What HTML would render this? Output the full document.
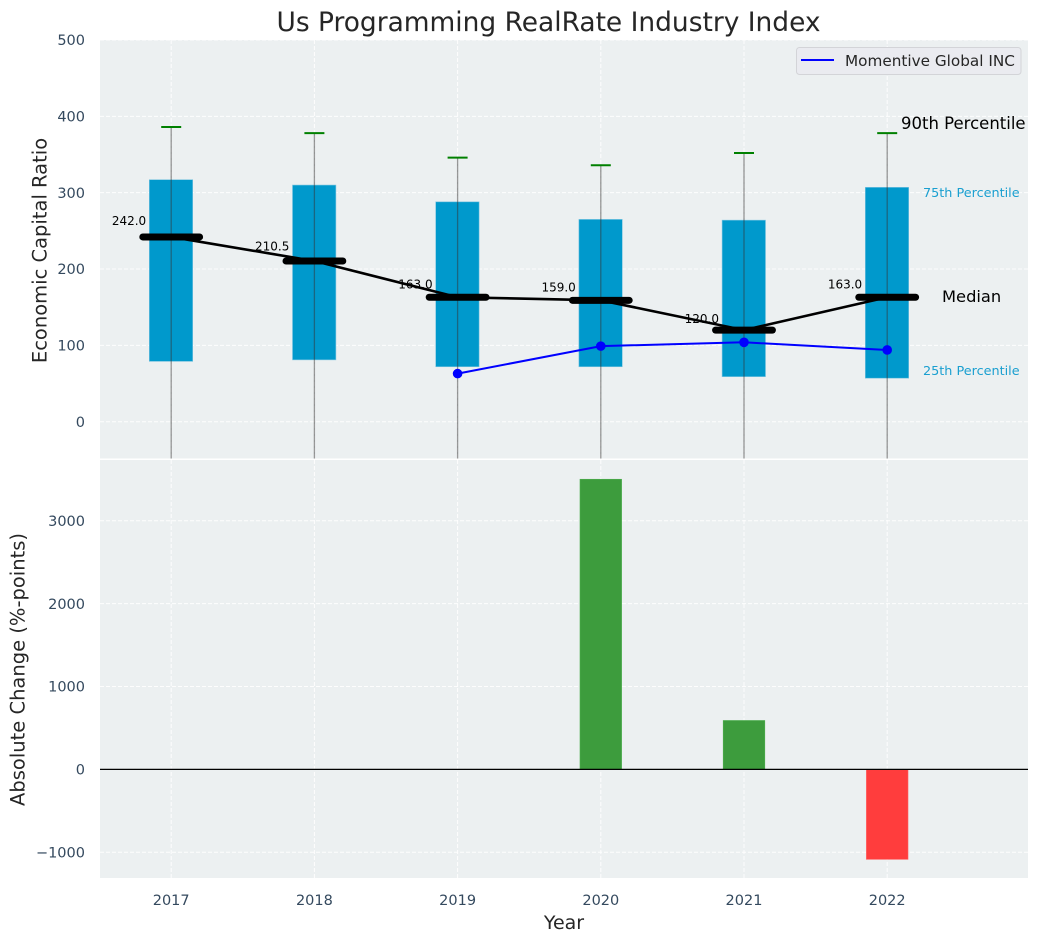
<!DOCTYPE html>
<html>
<head>
<meta charset="utf-8">
<style>
html,body{margin:0;padding:0;background:#fff;}
svg{display:block;font-family:"DejaVu Sans","Liberation Sans",sans-serif;}
</style>
</head>
<body>
<svg id="chart" width="1039" height="942" viewBox="0 0 1039 942" xmlns="http://www.w3.org/2000/svg"></svg>
<script>
const years = [2017, 2018, 2019, 2020, 2021, 2022];
const p10 = [-70, -70, -70, -70, -70, -70];
const p25 = [79, 81, 72, 72, 59, 57];
const p75 = [317, 310, 288, 265, 264, 307];
const p90 = [386, 378, 346, 336, 352, 378];
const medians = [242, 210.5, 163, 159, 120, 163];
const medianLabels = ["242.0", "210.5", "163.0", "159.0", "120.0", "163.0"];
const companyYears = [2019, 2020, 2021, 2022];
const companyValues = [63, 99, 104, 94];
const changeYears = [2020, 2021, 2022];
const changeValues = [3500, 590, -1085];
const topTicks = [0, 100, 200, 300, 400, 500];
const bottomTicks = [-1000, 0, 1000, 2000, 3000];
const bottomTickLabels = ["\u22121000", "0", "1000", "2000", "3000"];

const NS = "http://www.w3.org/2000/svg";
const svg = document.getElementById("chart");
const L = 100, R = 1028, T1 = 40, B1 = 458.5, T2 = 460, B2 = 878;

function x(v){ return 171.2 + (v - 2017) * 143.2; }
function yTop(v){ return 421.7 - v * 0.7634; }
function yBot(v){ return 769.4 - v * 0.0829; }

function make(tag, attrs, parent){
  const el = document.createElementNS(NS, tag);
  for (const k in attrs) el.setAttribute(k, attrs[k]);
  (parent || svg).appendChild(el);
  return el;
}
function label(str, attrs, parent){
  const el = make("text", attrs, parent);
  el.textContent = str;
  return el;
}

const defs = make("defs", {});
const clipA = make("clipPath", {id: "clip-top"}, defs);
make("rect", {x: L, y: T1, width: R - L, height: B1 - T1}, clipA);
const clipB = make("clipPath", {id: "clip-bottom"}, defs);
make("rect", {x: L, y: T2, width: R - L, height: B2 - T2}, clipB);

const panelTop = make("rect", {x: L, y: T1, width: R - L, height: B1 - T1, fill: "#ecf0f1"});


const panelBottom = make("rect", {x: L, y: T2, width: R - L, height: B2 - T2, fill: "#ecf0f1"});



const GRID = {stroke: "#ffffff", "stroke-width": 1, "stroke-dasharray": "4 2", opacity: 0.9};

const gridTop = make("g", {"clip-path": "url(#clip-top)"});


const gridBot = make("g", {"clip-path": "url(#clip-bottom)"});


years.forEach(function(yr){
  make("line", Object.assign({x1: x(yr), x2: x(yr), y1: T1, y2: B1}, GRID), gridTop);
  make("line", Object.assign({x1: x(yr), x2: x(yr), y1: T2, y2: B2}, GRID), gridBot);
});
topTicks.forEach(function(t){
  make("line", Object.assign({x1: L, x2: R, y1: yTop(t), y2: yTop(t)}, GRID), gridTop);
});
bottomTicks.forEach(function(t){
  make("line", Object.assign({x1: L, x2: R, y1: yBot(t), y2: yBot(t)}, GRID), gridBot);
});

const marks = make("g", {"clip-path": "url(#clip-top)"});



years.forEach(function(yr, i){
  const box = make("rect", {x: x(yr) - 21.9, y: yTop(p75[i]), width: 43.4, height: yTop(p25[i]) - yTop(p75[i]), fill: "#0099cc", stroke: "#7cc4e0", "stroke-width": 0.6}, marks);
  
  
});

const medianPath = make("polyline", {points: years.map(function(yr, i){ return x(yr) + "," + yTop(medians[i]); }).join(" "), fill: "none", stroke: "#000", "stroke-width": 2.6}, marks);



years.forEach(function(yr, i){
  const whisker = make("line", {x1: x(yr), x2: x(yr), y1: yTop(p90[i]), y2: yTop(p10[i]), stroke: "#333", "stroke-opacity": 0.5, "stroke-width": 1.3}, marks);
  
  
  const cap = make("line", {x1: x(yr) - 10, x2: x(yr) + 10, y1: yTop(p90[i]), y2: yTop(p90[i]), stroke: "#008000", "stroke-width": 2}, marks);
  
  
  const med = make("line", {x1: x(yr) - 28.4, x2: x(yr) + 28.4, y1: yTop(medians[i]), y2: yTop(medians[i]), stroke: "#000", "stroke-width": 7, "stroke-linecap": "round"}, marks);
  
  
  const val = label(medianLabels[i], {x: x(yr) - 25, y: yTop(medians[i] * 1.05) - 2.7, "text-anchor": "end", "font-size": 12, fill: "#000"});
  
  
});

const companyPath = make("polyline", {points: companyYears.map(function(yr, i){ return x(yr) + "," + yTop(companyValues[i]); }).join(" "), fill: "none", stroke: "#0000ff", "stroke-width": 2}, marks);


companyYears.forEach(function(yr, i){
  const pt = make("circle", {cx: x(yr), cy: yTop(companyValues[i]), r: 4.8, fill: "#0000ff"}, marks);
  
  
});

const barGroup = make("g", {"clip-path": "url(#clip-bottom)"});


changeYears.forEach(function(yr, i){
  const v = changeValues[i];
  const top = Math.min(yBot(v), yBot(0));
  const h = Math.abs(yBot(v) - yBot(0));
  const bar = make("rect", {x: x(yr) - 20.8, y: top, width: 41.6, height: h, fill: v >= 0 ? "#3d9c3d" : "#ff3d3d", stroke: v >= 0 ? "#4fb04f" : "#ff6060", "stroke-width": 0.6}, barGroup);
  
  
});
const zero = make("line", {x1: L, x2: R, y1: yBot(0), y2: yBot(0), stroke: "#000", "stroke-width": 1.2});



const TICK = "#34495e";
const TICK_SIZE = 14.5;
topTicks.forEach(function(t){
  const el = label(String(t), {x: 85, y: yTop(t) + 5.2, "text-anchor": "end", "font-size": TICK_SIZE, fill: TICK});
  
  
});
bottomTicks.forEach(function(t, i){
  const el = label(bottomTickLabels[i], {x: 85, y: yBot(t) + 5.2, "text-anchor": "end", "font-size": TICK_SIZE, fill: TICK});
  
  
});
years.forEach(function(yr){
  const el = label(String(yr), {x: x(yr), y: 905, "text-anchor": "middle", "font-size": TICK_SIZE, fill: TICK});
  
  
});

const title = label("Us Programming RealRate Industry Index", {x: 548.5, y: 31, "text-anchor": "middle", "font-size": 26.45, fill: "#262626"});


const xTitle = label("Year", {x: 564, y: 929, "text-anchor": "middle", "font-size": 19, fill: "#262626"});


const yTitleTop = label("Economic Capital Ratio", {x: 0, y: 0, transform: "translate(46.5,250.5) rotate(-90)", "text-anchor": "middle", "font-size": 19.5, fill: "#262626"});


const yTitleBot = label("Absolute Change (%-points)", {x: 0, y: 0, transform: "translate(24.5,669.5) rotate(-90)", "text-anchor": "middle", "font-size": 19.5, fill: "#262626"});



const a90 = label("90th Percentile", {x: 901, y: 129, "font-size": 16.5, fill: "#000"});


const a75 = label("75th Percentile", {x: 923, y: 197, "font-size": 12.8, fill: "#1a9fd0"});


const aMed = label("Median", {x: 942, y: 302, "font-size": 16.3, fill: "#000"});


const a25 = label("25th Percentile", {x: 923, y: 375, "font-size": 12.8, fill: "#1a9fd0"});



const legend = make("g", {});


make("rect", {x: 796.5, y: 47.5, width: 224.5, height: 27, rx: 3, fill: "#eaebf0", stroke: "#d3d4d8", "stroke-width": 1}, legend);
make("line", {x1: 801, x2: 834, y1: 60, y2: 60, stroke: "#0000ff", "stroke-width": 2}, legend);
const legendText = label("Momentive Global INC", {x: 845, y: 66, "font-size": 15.25, fill: "#262626"}, legend);


</script>
</body>
</html>
